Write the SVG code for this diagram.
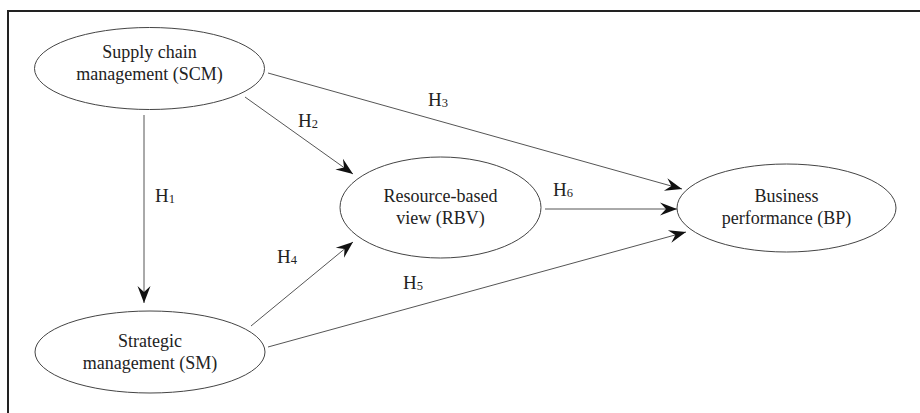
<svg xmlns="http://www.w3.org/2000/svg" width="920" height="413" viewBox="0 0 920 413">
<style>
.node ellipse{fill:#fff;stroke:#444;stroke-width:1}
text{font-family:'Liberation Serif','Times New Roman','DejaVu Serif',serif;fill:#222}
.lbl{font-size:18px;text-anchor:middle}
.h{font-size:19px}
.s{font-size:12.5px}
.edge{stroke:#555;stroke-width:1;fill:none;marker-end:url(#arr)}
.frame{stroke:#222;stroke-width:2;fill:none}
</style>
<defs>
<marker id="arr" markerUnits="userSpaceOnUse" markerWidth="20" markerHeight="14" viewBox="-18 -7 20 14" refX="0" refY="0" orient="auto">
<path d="M-17,-6.5 L0,0 L-17,6.5 L-11,0 z" fill="#111"/>
</marker>
</defs>
<rect width="920" height="413" fill="#fff"/>
<path class="frame" d="M8,413 L8,11 L920,11"/>
<g id="connectors">
<line class="edge" x1="144" y1="115" x2="144" y2="303"/>
<line class="edge" x1="245" y1="97" x2="353" y2="174"/>
<line class="edge" x1="268" y1="73" x2="682" y2="189"/>
<line class="edge" x1="251" y1="326" x2="353" y2="242"/>
<line class="edge" x1="268" y1="347" x2="686" y2="232"/>
<line class="edge" x1="545" y1="209" x2="677" y2="209"/>
<text class="h" x="155" y="202" font-family="Liberation Serif, serif">H<tspan class="s" dy="1">1</tspan></text>
<text class="h" x="298" y="127" font-family="Liberation Serif, serif">H<tspan class="s" dy="1">2</tspan></text>
<text class="h" x="428" y="106" font-family="Liberation Serif, serif">H<tspan class="s" dy="1">3</tspan></text>
<text class="h" x="277" y="263" font-family="Liberation Serif, serif">H<tspan class="s" dy="1">4</tspan></text>
<text class="h" x="403" y="289" font-family="Liberation Serif, serif">H<tspan class="s" dy="1">5</tspan></text>
<text class="h" x="553" y="196" font-family="Liberation Serif, serif">H<tspan class="s" dy="1">6</tspan></text>
</g>
<g id="scm" class="node">
<ellipse cx="149.5" cy="68.5" rx="115" ry="41"/>
<text class="lbl" x="149.5" y="58">Supply chain</text>
<text class="lbl" x="149.5" y="80">management (SCM)</text>
</g>
<g id="sm" class="node">
<ellipse cx="150" cy="352" rx="115" ry="41"/>
<text class="lbl" x="150" y="347">Strategic</text>
<text class="lbl" x="150" y="369">management (SM)</text>
</g>
<g id="rbv" class="node">
<ellipse cx="440.5" cy="207.5" rx="100.5" ry="50.5"/>
<text class="lbl" x="440.5" y="202">Resource-based</text>
<text class="lbl" x="440.5" y="224">view (RBV)</text>
</g>
<g id="bp" class="node">
<ellipse cx="786.5" cy="208" rx="109.5" ry="44"/>
<text class="lbl" x="786.5" y="202">Business</text>
<text class="lbl" x="786.5" y="224">performance (BP)</text>
</g>
</svg>
